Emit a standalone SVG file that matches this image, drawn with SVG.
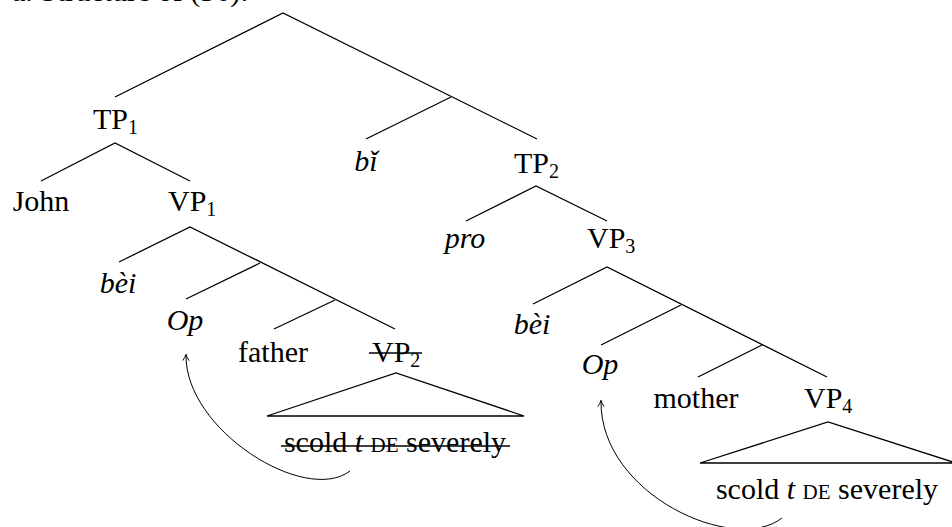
<svg xmlns="http://www.w3.org/2000/svg" width="952" height="527" viewBox="0 0 952 527">
  <style>
    text { font-family: "Liberation Serif", "Times New Roman", serif; font-size: 30px; fill: #000; }
    .it { font-style: italic; }
    .sub { font-size: 20px; }
    .sc { font-size: 21px; }
    .mid { text-anchor: middle; }
    .edge { stroke: #000; stroke-width: 1.3; fill: none; }
    .strike { stroke: #000; stroke-width: 1.3; }
    .move { stroke: #000; stroke-width: 1; fill: none; marker-end: url(#tip); }
  </style>
  <defs>
    <marker id="tip" viewBox="0 0 10 10" refX="8" refY="5" markerWidth="8" markerHeight="8" markerUnits="userSpaceOnUse" orient="auto">
      <path d="M1,1 Q5,4 9,5 Q5,6 1,9" fill="none" stroke="#000" stroke-width="1.2"/>
    </marker>
  </defs>

  <!-- heading, mostly above the top edge -->
  <text x="12" y="1">a. Structure of (36):</text>

  <!-- tree branches -->
  <g id="edges">
    <path class="edge" d="M115,97 L283,13 L537,139"/>
    <path class="edge" d="M366,139 L451,97"/>
    <path class="edge" d="M41,181 L115,143 L190,181"/>
    <path class="edge" d="M119,262 L190,227 L395,329"/>
    <path class="edge" d="M186,299 L260,263"/>
    <path class="edge" d="M274,329 L335,300"/>
    <path class="edge" d="M267,416 L396,373 L524,416 Z"/>
    <path class="edge" d="M466,221 L536,186 L607,221"/>
    <path class="edge" d="M533,304 L607,267 L827,377"/>
    <path class="edge" d="M601,345 L681,305"/>
    <path class="edge" d="M698,377 L762,345"/>
    <path class="edge" d="M700,463 L828,422 L956,463 Z"/>
    <!-- movement arrows -->
    <path class="move" d="M350,471 C305,505 185,430 186,355"/>
    <path class="move" d="M782,518 C735,555 600,495 601,401"/>
  </g>

  <g id="tp1"><text x="93" y="129">TP<tspan class="sub" dy="5">1</tspan></text></g>
  <g id="john"><text class="mid" x="41" y="211">John</text></g>
  <g id="vp1"><text x="168" y="211">VP<tspan class="sub" dy="5">1</tspan></text></g>
  <g id="bi"><text class="mid it" x="366" y="171">bǐ</text></g>
  <g id="tp2"><text x="514" y="173">TP<tspan class="sub" dy="5">2</tspan></text></g>
  <g id="bei1"><text class="mid it" x="118" y="293">bèi</text></g>
  <g id="op1"><text class="mid it" x="185" y="330">Op</text></g>
  <g id="father"><text class="mid" x="273" y="362">father</text></g>
  <g id="vp2">
    <text x="372" y="362">VP<tspan class="sub" dy="5">2</tspan></text>
    <line class="strike" x1="369" y1="353" x2="422" y2="353"/>
  </g>
  <g id="vp2-content">
    <text class="mid" x="395" y="452">scold <tspan class="it">t</tspan> <tspan class="sc">DE</tspan> severely</text>
    <line class="strike" x1="281" y1="446" x2="510" y2="446"/>
  </g>
  <g id="pro"><text class="mid it" x="465" y="248">pro</text></g>
  <g id="vp3"><text x="587" y="248">VP<tspan class="sub" dy="5">3</tspan></text></g>
  <g id="bei2"><text class="mid it" x="532" y="334">bèi</text></g>
  <g id="op2"><text class="mid it" x="600" y="374">Op</text></g>
  <g id="mother"><text class="mid" x="696" y="408">mother</text></g>
  <g id="vp4"><text x="804" y="408">VP<tspan class="sub" dy="5">4</tspan></text></g>
  <g id="vp4-content">
    <text class="mid" x="827" y="499">scold <tspan class="it">t</tspan> <tspan class="sc">DE</tspan> severely</text>
  </g>
</svg>
